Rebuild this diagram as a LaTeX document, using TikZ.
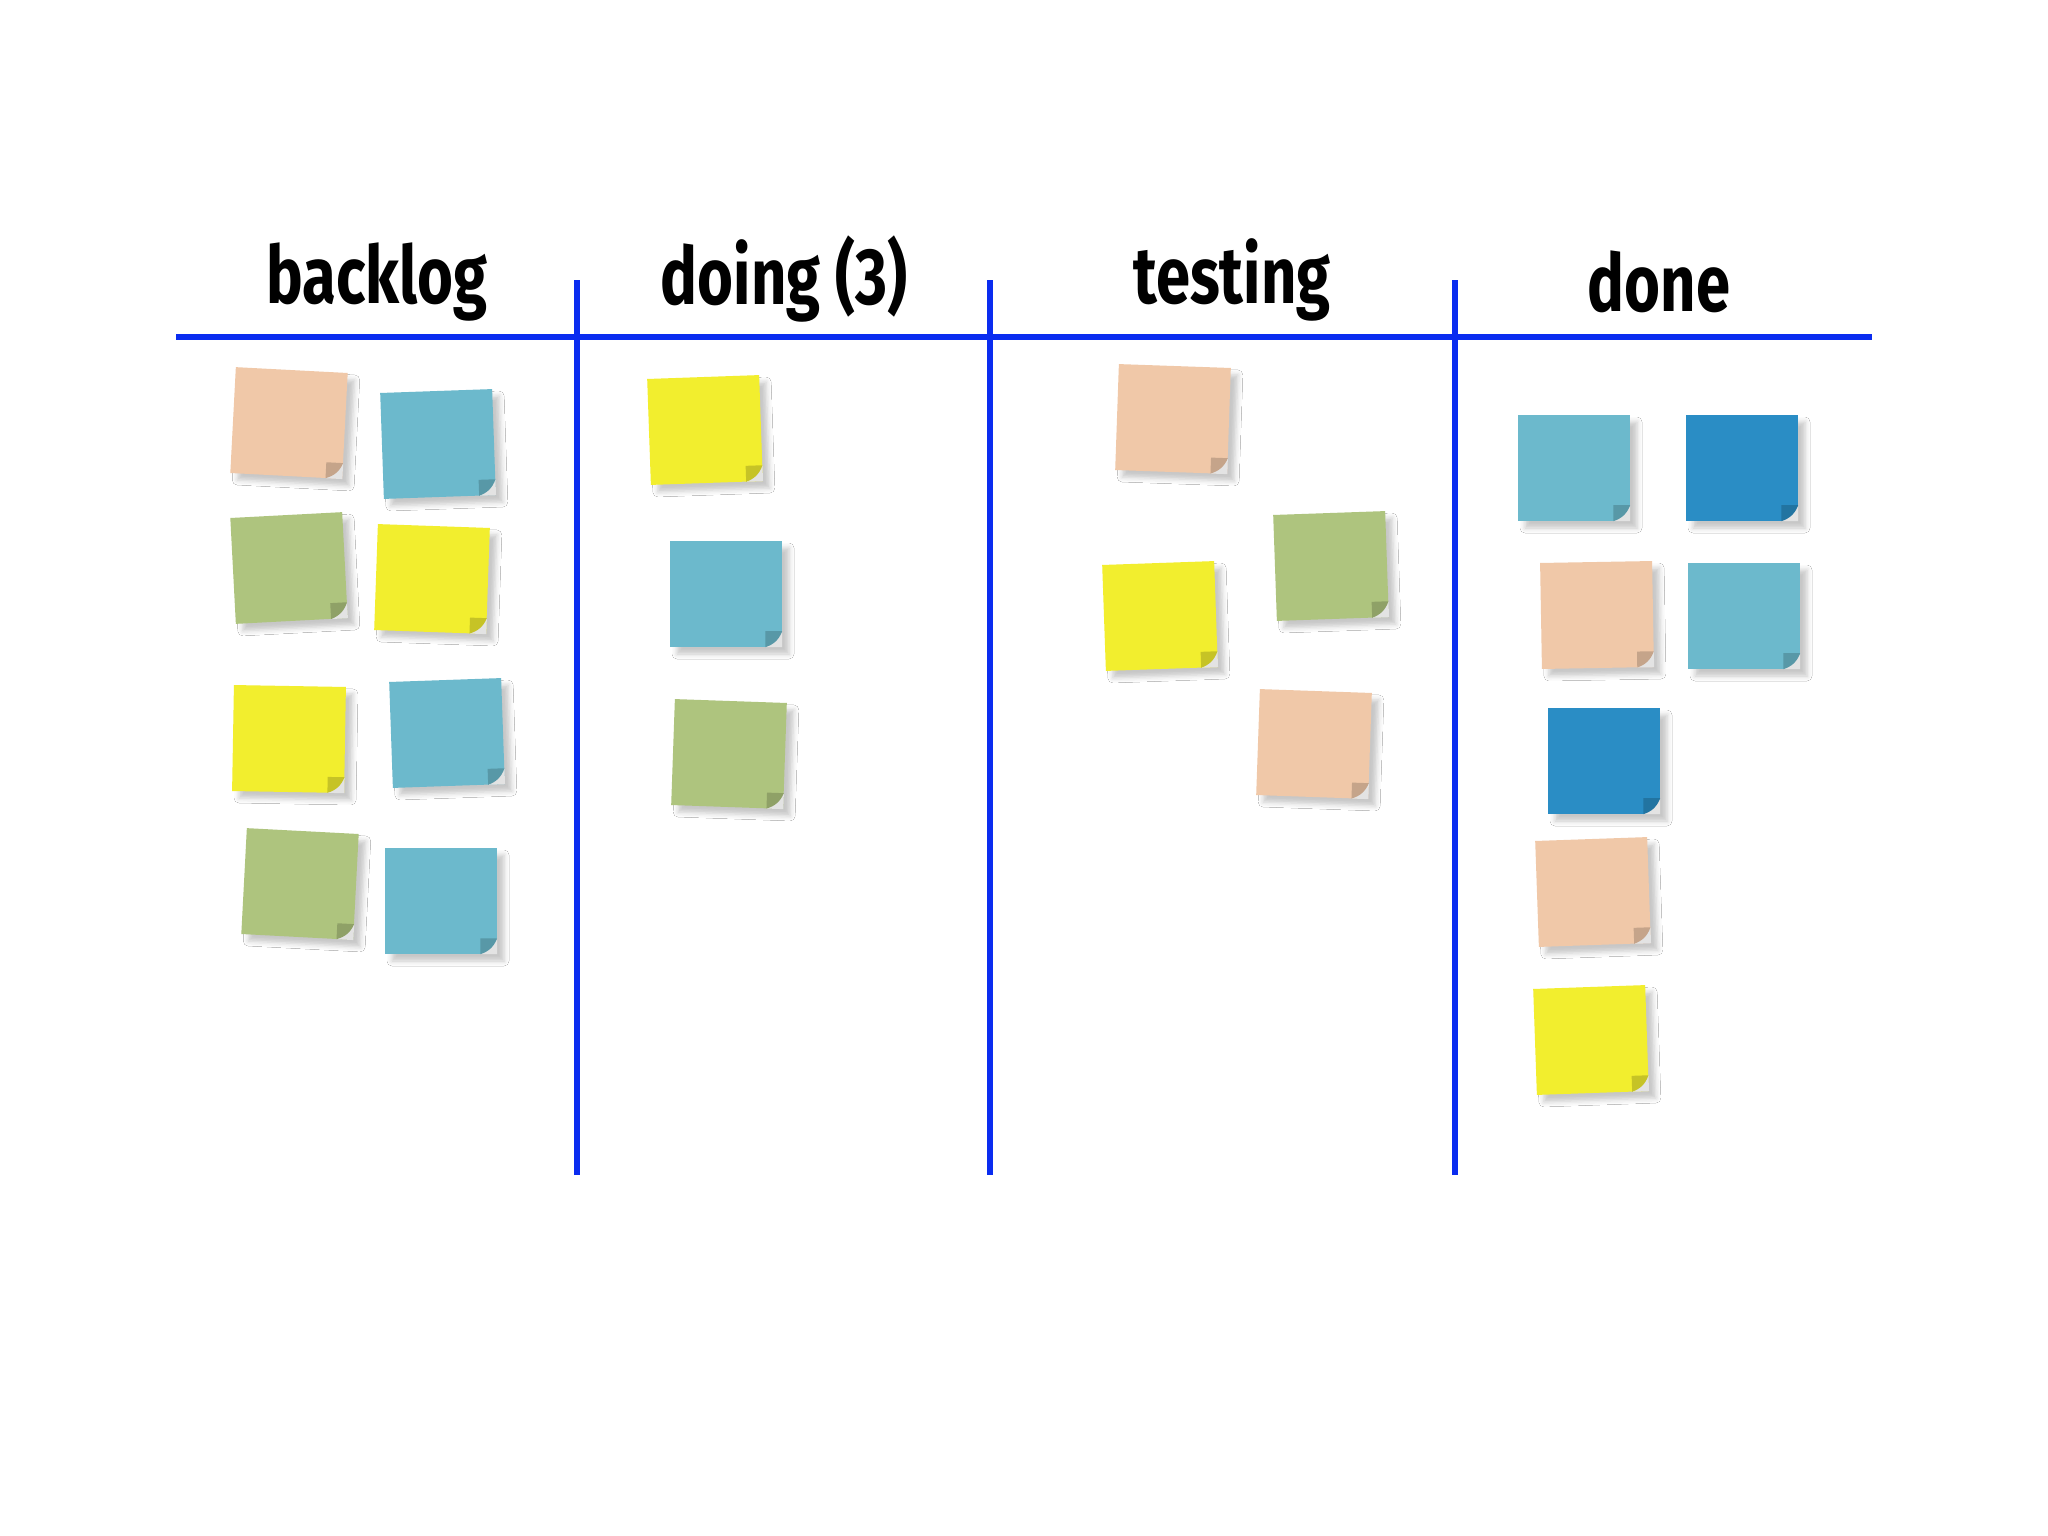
\documentclass[tikz,border=0pt]{standalone}
\usepackage{fontspec}
\setmainfont{Fira Sans}
\usetikzlibrary{shadows.blur,calc}
\definecolor{npeach}{HTML}{F0C8A8}
\definecolor{nblue}{HTML}{6CB9CC}
\definecolor{ngreen}{HTML}{AEC47E}
\definecolor{nyellow}{HTML}{F2EE2E}
\definecolor{ndblue}{HTML}{2A8DC5}
\definecolor{boardline}{HTML}{0A2CF0}
\tikzset{
 note/.style={rectangle, minimum width=112pt, minimum height=106pt, inner sep=0pt, fill=#1,
   blur shadow={shadow xshift=7pt, shadow yshift=-7pt, shadow blur radius=5pt, shadow opacity=22}},
 header/.style={font=\fontsize{80}{80}\selectfont\bfseries, xscale=0.77, anchor=base, inner sep=0pt},
 boardrule/.style={draw=boardline, line width=5.5pt}
}
\begin{document}
\begin{tikzpicture}[x=1pt,y=-1pt]
\useasboundingbox[fill=white] (0,0) rectangle (2048,1536);
% board lines
\coordinate (hl) at (176,337);
\coordinate (hr) at (1872,337);
\draw[boardrule] (hl) -- (hr);
\foreach \vx in {577,990,1455}{
  \coordinate (vt\vx) at (\vx,280);
  \coordinate (vb\vx) at (\vx,1175);
  \draw[boardrule] (vt\vx) -- (vb\vx);
}
% headers
\node[header] (h1) at (377,303) {backlog};
\node[header] (h2) at (784,304) {doing (3)};
\node[header] (h3) at (1232,303) {testing};
\node[header] (h4) at (1659,311) {done};
% notes
\foreach \n/\px/\py/\c/\r in {
 n1/289/423/npeach/-3, n2/438/444/nblue/2, n3/289/568/ngreen/3, n4/432/579/nyellow/-2,
 n5/289/739/nyellow/-1, n6/447/733/nblue/2, n7/300/884/ngreen/-3, n8/441/901/nblue/0,
 n9/705/430/nyellow/2, n10/726/594/nblue/0, n11/729/754/ngreen/-2,
 n12/1173/419/npeach/-2, n13/1331/566/ngreen/2, n14/1160/616/nyellow/2, n15/1314/744/npeach/-2,
 n16/1574/468/nblue/0, n17/1742/468/ndblue/0, n18/1597/615/npeach/1, n19/1744/616/nblue/0,
 n20/1604/761/ndblue/0, n21/1593/892/npeach/2, n22/1591/1040/nyellow/2}{
  \node[note=\c, rotate=\r] (\n) at (\px,\py) {};
  \fill[gray!22] ($(\n.south east)!0.15!(\n.south west)$) -- (\n.south east)
      -- ($(\n.south east)!0.15!(\n.north east)$) -- cycle;
  \fill[\c!82!black] ($(\n.south east)!0.15!(\n.south west)$)
      to[bend right=25] ($(\n.south east)!0.15!(\n.north east)$)
      -- ($(\n.south east)!0.15!(\n.north west)$) -- cycle;
}
\end{tikzpicture}
\end{document}
